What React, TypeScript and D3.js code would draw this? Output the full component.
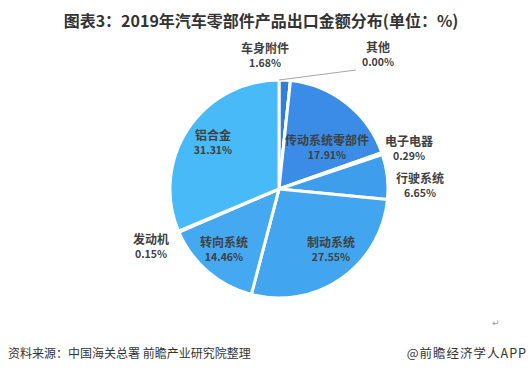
import React from "react";
import * as d3 from "d3";

const categories = ["车身附件", "其他", "传动系统零部件", "电子电器", "行驶系统", "制动系统", "转向系统", "发动机", "铝合金"];
const values = [1.68, 0.0, 17.91, 0.29, 6.65, 27.55, 14.46, 0.15, 31.31];
const colors = ["#2f7fd9", "#3a8ce6", "#3a8ce6", "#3d96ea", "#3f9eec", "#42a5ef", "#44a9f0", "#46b4f5", "#47baf7"];

// label spots (outside ones placed by hand near the slices, inside ones at centroid-ish)
const labelPos: Record<string, [number, number]> = {
  "车身附件": [265, 53],
  "其他": [378, 52],
  "传动系统零部件": [327, 145],
  "电子电器": [409, 146],
  "行驶系统": [420, 183],
  "制动系统": [331, 247],
  "转向系统": [224, 247],
  "发动机": [151, 244],
  "铝合金": [213, 140],
};

export default function App() {
  const width = 532;
  const height = 374;
  const cx = 279;
  const cy = 189;
  const r = 109;

  const pie = d3.pie<number>().sort(null).value((d) => d);
  const arcs = pie(values);
  const arc = d3.arc<d3.PieArcDatum<number>>().innerRadius(0).outerRadius(r);

  return (
    <svg width={width} height={height} style={{ position: "absolute", left: 0, top: 0, background: "#fff" }}>
      <text x={261} y={27} textAnchor="middle" fontFamily="Noto Sans CJK SC" fontWeight="bold" fontSize={16} fill="#333">
        图表3：2019年汽车零部件产品出口金额分布(单位：%)
      </text>
      <g transform={`translate(${cx},${cy})`}>
        {arcs.map((a, i) => (
          <path key={i} d={arc(a) || ""} fill={colors[i]} stroke="#fff" strokeWidth={3} strokeLinejoin="round" />
        ))}
      </g>
      {/* leader line for 其他 */}
      <line x1={356} y1={70} x2={279} y2={80} stroke="#a6a6a6" strokeWidth={1} />
      {categories.map((c, i) => {
        const [x, y] = labelPos[c];
        return (
          <g key={c} fontFamily="Noto Sans CJK SC" textAnchor="middle">
            <text x={x} y={y} fontSize={12} fontWeight="bold" fill="#404040">
              {c}
            </text>
            <text x={x} y={y + 14} fontSize={10.5} fontWeight="bold" fill="#404040">
              {values[i].toFixed(2)}%
            </text>
          </g>
        );
      })}
      <text x={492} y={326} fontSize={9} fill="#999" fontFamily="DejaVu Sans">↵</text>
      <text x={8} y={358} fontSize={12} fill="#333" fontFamily="Noto Sans CJK SC">
        资料来源：中国海关总署 前瞻产业研究院整理
      </text>
      <text x={527} y={358} textAnchor="end" fontSize={12.5} letterSpacing={1} fill="#333" fontFamily="Noto Sans CJK SC">
        @前瞻经济学人APP
      </text>
    </svg>
  );
}
